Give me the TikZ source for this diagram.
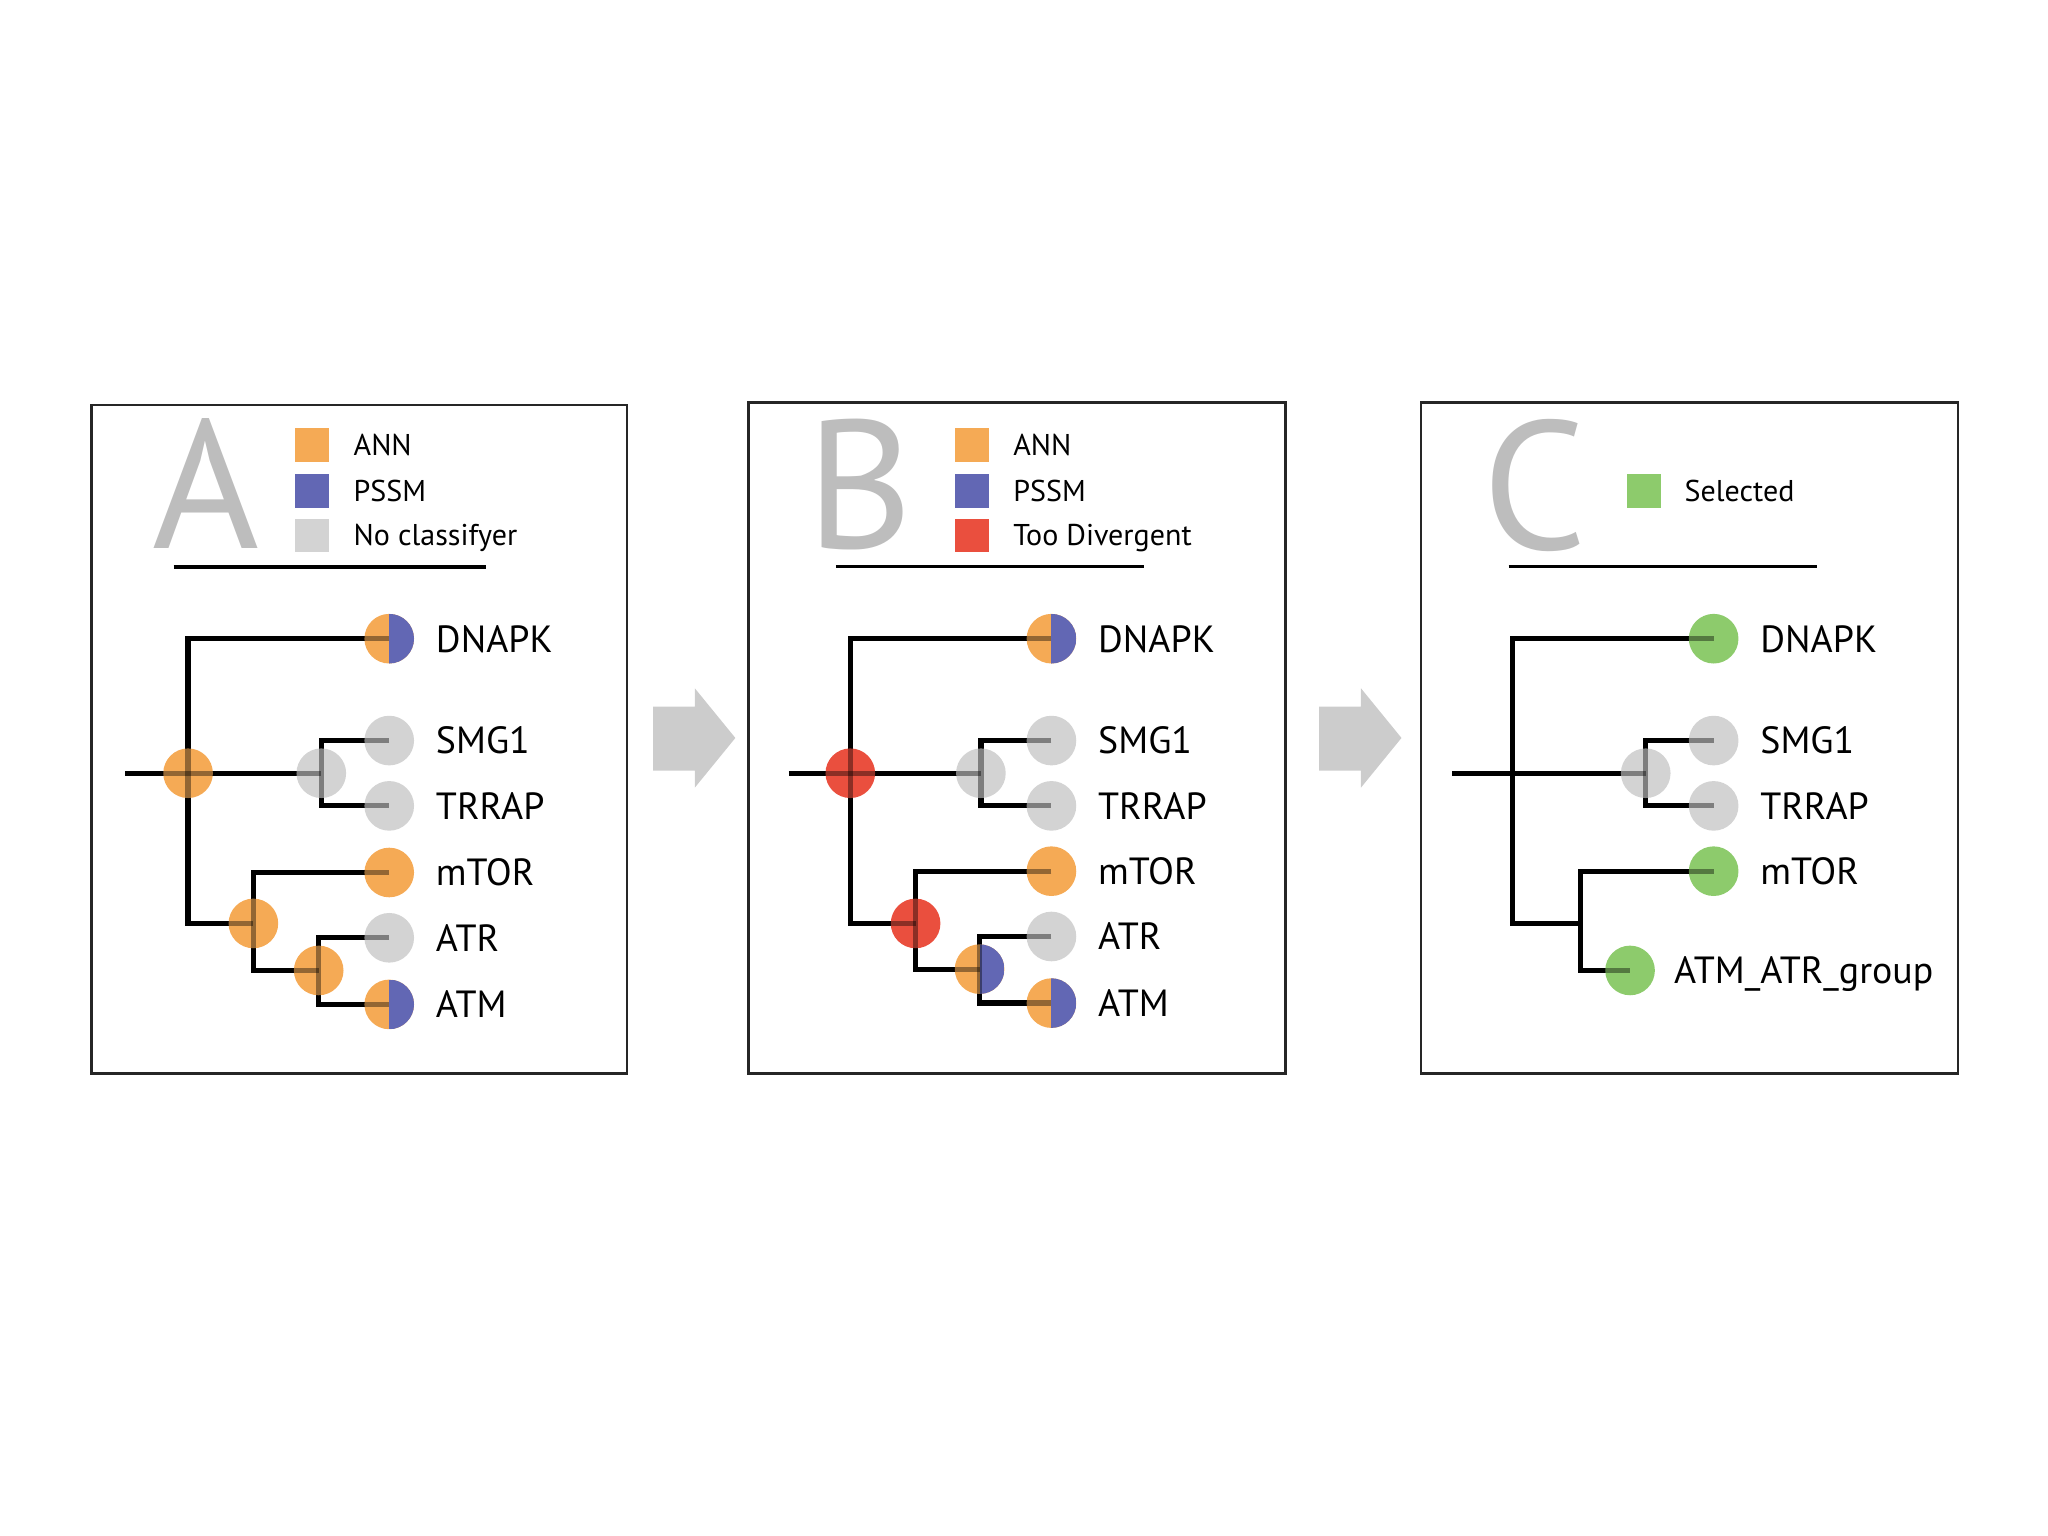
\documentclass[tikz,border=0pt]{standalone}
\usepackage{fontspec}
\setmainfont{PT Sans}
\usetikzlibrary{positioning}
\pgfdeclarelayer{background}
\pgfdeclarelayer{foreground}
\pgfsetlayers{background,main,foreground}
\definecolor{ann}{HTML}{F5AA55}
\definecolor{pssm}{HTML}{6267B4}
\definecolor{nocls}{HTML}{D3D3D3}
\definecolor{diverg}{HTML}{EA4F3E}
\definecolor{selected}{HTML}{8DCB6C}
\definecolor{lettergray}{HTML}{BDBDBD}
\definecolor{arrowgray}{HTML}{CCCCCC}
\begin{document}
\begin{tikzpicture}[x=0.5pt, y=-0.5pt,
  dot/.style={circle, minimum size=19pt, inner sep=0pt},
  halfdot/.style={dot, fill=ann, path picture={\fill[pssm] (path picture bounding box.north) rectangle (path picture bounding box.south east);}},
  leaf/.style={font=\fontsize{14.5}{16}\selectfont, inner sep=0pt, text height=10.2pt, text depth=0pt},
  key/.style={minimum size=13pt, inner sep=0pt},
  keytext/.style={font=\fontsize{11.5}{13}\selectfont, inner sep=0pt, text height=8pt, text depth=0pt},
  letter/.style={font=\fontsize{70}{70}\selectfont, text=lettergray, inner sep=0pt, anchor=base},
  panel/.style={draw=black!85, line width=1pt},
  branch/.style={line width=2pt}]
\useasboundingbox (0,0) rectangle (1568,1176);
% panel A
\draw[panel] (70,310) rectangle (480,822);
\node[letter] (aLetter) at (158,420) {A};
\node[key, fill=ann] (aK1) at (239,341) {}; \node[keytext, right=9pt of aK1] (aT1) {ANN};
\node[key, fill=pssm] (aK2) at (239,376) {}; \node[keytext, right=9pt of aK2] (aT2) {PSSM};
\node[key, fill=nocls] (aK3) at (239,410) {}; \node[keytext, right=9pt of aK3] (aT3) {No classifyer};
\draw[line width=1.5pt] (133,434) -- (372,434);
\coordinate (aS) at (96,592);
\node[dot, fill=ann] (aR) at (144,592) {};
\node[dot, fill=nocls] (aG) at (246,592) {};
\node[dot, fill=ann] (aL) at (194,707) {};
\node[dot, fill=ann] (aI) at (244,743) {};
\node[halfdot] (aDNAPK) at (298,489) {}; \node[leaf, right=8pt of aDNAPK] (aDNAPKt) {DNAPK};
\node[dot, fill=nocls] (aSMG1) at (298,567) {}; \node[leaf, right=8pt of aSMG1] (aSMG1t) {SMG1};
\node[dot, fill=nocls] (aTRRAP) at (298,617) {}; \node[leaf, right=8pt of aTRRAP] (aTRRAPt) {TRRAP};
\node[dot, fill=ann] (amTOR) at (298,668) {}; \node[leaf, right=8pt of amTOR] (amTORt) {mTOR};
\node[dot, fill=nocls] (aATR) at (298,718) {}; \node[leaf, right=8pt of aATR] (aATRt) {ATR};
\node[halfdot] (aATM) at (298,769) {}; \node[leaf, right=8pt of aATM] (aATMt) {ATM};
\foreach \ly/\op in {background/1, foreground/0.4} {
\begin{pgfonlayer}{\ly}
\draw[branch, draw opacity=\op] (aS) -- (aG.center);
\draw[branch, draw opacity=\op] (aDNAPK.center) -| (aR.center) |- (aL.center);
\draw[branch, draw opacity=\op] (aSMG1.center) -| (aG.center) |- (aTRRAP.center);
\draw[branch, draw opacity=\op] (amTOR.center) -| (aL.center) |- (aI.center);
\draw[branch, draw opacity=\op] (aATR.center) -| (aI.center) |- (aATM.center);
\end{pgfonlayer}}
\fill[arrowgray] (500,541) -- (532,541) -- (532,527) -- (563,565) -- (532,603) -- (532,590) -- (500,590) -- cycle;
% panel B
\begin{scope}[shift={(505,0)}]
\draw[panel] (68,308) rectangle (479,822);
\node[letter] (bLetter) at (153,420) {B};
\node[key, fill=ann] (bK1) at (239,341) {}; \node[keytext, right=9pt of bK1] (bT1) {ANN};
\node[key, fill=pssm] (bK2) at (239,376) {}; \node[keytext, right=9pt of bK2] (bT2) {PSSM};
\node[key, fill=diverg] (bK3) at (239,410) {}; \node[keytext, right=9pt of bK3] (bT3) {Too Divergent};
\draw[line width=1.1pt] (135,434) -- (371,434);
\coordinate (bS) at (99,592);
\node[dot, fill=diverg] (bR) at (146,592) {};
\node[dot, fill=nocls] (bG) at (246,592) {};
\node[dot, fill=diverg] (bL) at (196,707) {};
\node[halfdot] (bI) at (245,742) {};
\node[halfdot] (bDNAPK) at (300,489) {}; \node[leaf, right=8pt of bDNAPK] (bDNAPKt) {DNAPK};
\node[dot, fill=nocls] (bSMG1) at (300,567) {}; \node[leaf, right=8pt of bSMG1] (bSMG1t) {SMG1};
\node[dot, fill=nocls] (bTRRAP) at (300,617) {}; \node[leaf, right=8pt of bTRRAP] (bTRRAPt) {TRRAP};
\node[dot, fill=ann] (bmTOR) at (300,667) {}; \node[leaf, right=8pt of bmTOR] (bmTORt) {mTOR};
\node[dot, fill=nocls] (bATR) at (300,717) {}; \node[leaf, right=8pt of bATR] (bATRt) {ATR};
\node[halfdot] (bATM) at (300,768) {}; \node[leaf, right=8pt of bATM] (bATMt) {ATM};
\foreach \ly/\op in {background/1, foreground/0.4} {
\begin{pgfonlayer}{\ly}
\draw[branch, draw opacity=\op] (bS) -- (bG.center);
\draw[branch, draw opacity=\op] (bDNAPK.center) -| (bR.center) |- (bL.center);
\draw[branch, draw opacity=\op] (bSMG1.center) -| (bG.center) |- (bTRRAP.center);
\draw[branch, draw opacity=\op] (bmTOR.center) -| (bL.center) |- (bI.center);
\draw[branch, draw opacity=\op] (bATR.center) -| (bI.center) |- (bATM.center);
\end{pgfonlayer}}
\end{scope}
\fill[arrowgray] (1010,541) -- (1042,541) -- (1042,527) -- (1073,565) -- (1042,603) -- (1042,590) -- (1010,590) -- cycle;
% panel C
\begin{scope}[shift={(1016,0)}]
\draw[panel] (72,308) rectangle (483,822);
\node[letter] (cLetter) at (159,421) {C};
\node[key, fill=selected] (cK1) at (243,376) {}; \node[keytext, right=8.5pt of cK1] (cT1) {Selected};
\draw[line width=1.1pt] (139,434) -- (375,434);
\coordinate (cS) at (96,592);
\coordinate (cR) at (142,592);
\node[dot, fill=nocls] (cG) at (244,592) {};
\coordinate (cL) at (194,707);
\node[dot, fill=selected] (cDNAPK) at (296,489) {}; \node[leaf, right=8pt of cDNAPK] (cDNAPKt) {DNAPK};
\node[dot, fill=nocls] (cSMG1) at (296,567) {}; \node[leaf, right=8pt of cSMG1] (cSMG1t) {SMG1};
\node[dot, fill=nocls] (cTRRAP) at (296,617) {}; \node[leaf, right=8pt of cTRRAP] (cTRRAPt) {TRRAP};
\node[dot, fill=selected] (cmTOR) at (296,667) {}; \node[leaf, right=8pt of cmTOR] (cmTORt) {mTOR};
\node[dot, fill=selected] (cATM) at (232,743) {}; \node[leaf, right=7pt of cATM] (cATMt) {ATM\_ATR\_group};
\foreach \ly/\op in {background/1, foreground/0.4} {
\begin{pgfonlayer}{\ly}
\draw[branch, draw opacity=\op] (cS) -- (cG.center);
\draw[branch, draw opacity=\op] (cDNAPK.center) -| (cR) |- (cL);
\draw[branch, draw opacity=\op] (cSMG1.center) -| (cG.center) |- (cTRRAP.center);
\draw[branch, draw opacity=\op] (cmTOR.center) -| (cL) |- (cATM.center);
\end{pgfonlayer}}
\end{scope}
\end{tikzpicture}
\end{document}
